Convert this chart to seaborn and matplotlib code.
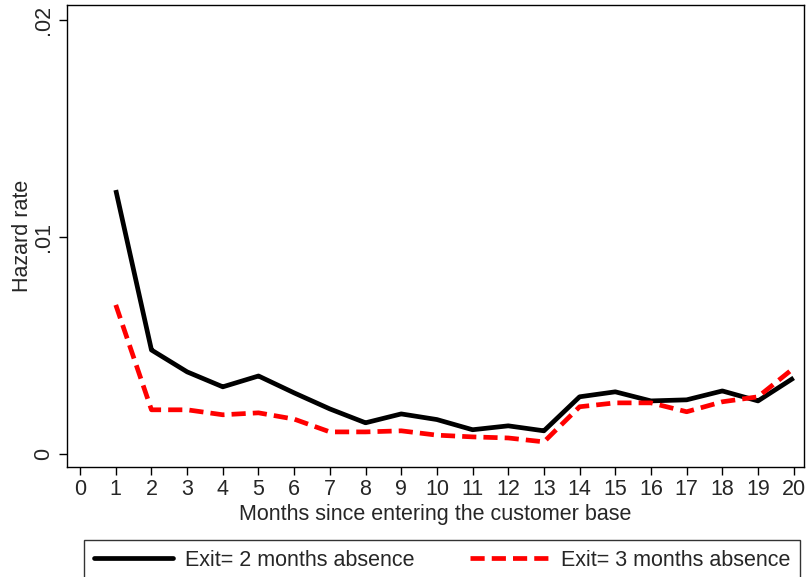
import matplotlib.pyplot as plt
import pandas as pd
import seaborn as sns

# Values
months = list(range(1, 21))
exit2 = [0.01217, 0.00479, 0.00378, 0.00309, 0.00359, 0.00281, 0.00207, 0.00143,
         0.00184, 0.00158, 0.00111, 0.00129, 0.00106, 0.00263, 0.00286, 0.00244,
         0.00249, 0.00290, 0.00244, 0.00350]
exit3 = [0.00687, 0.00203, 0.00203, 0.00180, 0.00189, 0.00160, 0.00101, 0.00101,
         0.00106, 0.00086, 0.00078, 0.00073, 0.00055, 0.00217, 0.00235, 0.00235,
         0.00194, 0.00240, 0.00263, 0.00395]
labels = ["Exit= 2 months absence", "Exit= 3 months absence"]
xticks = list(range(0, 21))

df = pd.DataFrame({
    "month": months * 2,
    "hazard": exit2 + exit3,
    "series": [labels[0]] * len(months) + [labels[1]] * len(months),
})

sns.set_theme(style="ticks")
plt.rcParams["font.family"] = ["Liberation Sans", "DejaVu Sans"]
fs = 15.5

fig = plt.figure(figsize=(8.06, 5.77), dpi=100)
ax = fig.add_axes([0.083, 0.191, 0.915, 0.80])

sns.lineplot(data=df, x="month", y="hazard", hue="series", style="series",
             palette=["black", "red"], dashes=[(1, 0), (3.0, 1.5)],
             linewidth=3.4, ax=ax, legend=False)

ax.set_xlim(-0.37, 20.3)
ax.set_ylim(-0.0006, 0.0207)
ax.set_xticks(xticks)
ax.set_xticklabels([str(t) for t in xticks], fontsize=fs)
ax.set_yticks([0, 0.01, 0.02])
ax.set_yticklabels(["0", ".01", ".02"], fontsize=fs, rotation=90, va="center")
ax.set_xlabel("Months since entering the customer base", fontsize=fs, labelpad=3)
ax.set_ylabel("Hazard rate", fontsize=fs, labelpad=0)
ax.tick_params(direction="out", length=6, width=1, color="black", pad=3)
for s in ax.spines.values():
    s.set_color("black")
    s.set_linewidth(1)

handles = [plt.Line2D([], [], color="black", lw=3.4),
           plt.Line2D([], [], color="red", lw=3.4, dashes=(3.0, 1.5))]
leg = fig.legend(handles, labels, loc="upper left", ncol=2, mode="expand",
                 bbox_to_anchor=(0.104, 0.0, 0.889, 0.064), fontsize=fs,
                 frameon=True, fancybox=False, handlelength=3.7,
                 handletextpad=0.55, borderaxespad=0, borderpad=0.45)
leg.get_frame().set_edgecolor("black")
leg.get_frame().set_linewidth(1)

fig.savefig("out.png", dpi=100)
